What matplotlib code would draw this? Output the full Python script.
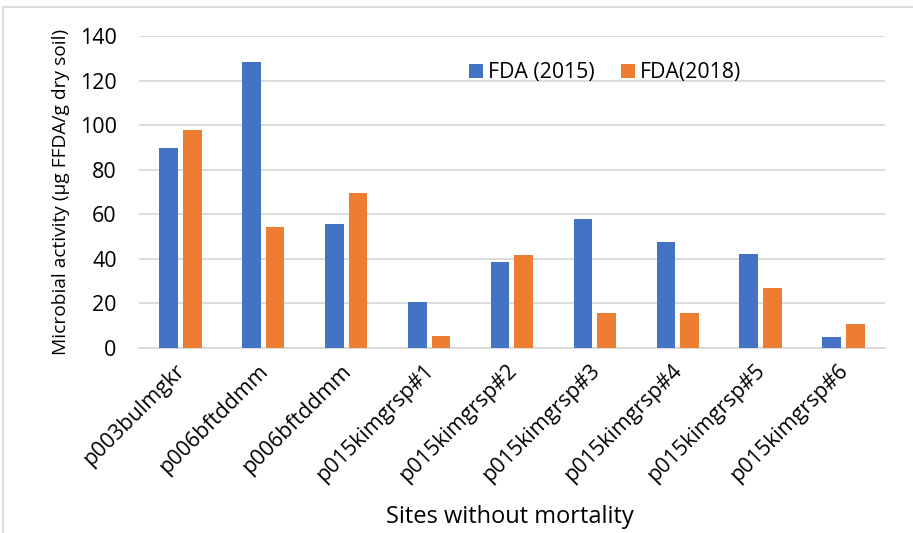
import matplotlib
matplotlib.use("Agg")
import matplotlib.pyplot as plt
import matplotlib.transforms as mtransforms
import numpy as np
from matplotlib.lines import Line2D

plt.rcParams['font.family'] = ['Open Sans', 'DejaVu Sans']

sites = ["p003bulmgkr", "p006bftddmm", "p006bftddmm", "p015kimgrsp#1",
         "p015kimgrsp#2", "p015kimgrsp#3", "p015kimgrsp#4", "p015kimgrsp#5",
         "p015kimgrsp#6"]
fda_2015 = [89.7, 128.5, 55.6, 20.6, 38.6, 57.7, 47.6, 42.2, 4.8]
fda_2018 = [97.8, 54.2, 69.7, 5.4, 41.6, 15.6, 15.6, 26.9, 10.8]
y_ticks = [0, 20, 40, 60, 80, 100, 120, 140]

blue = "#4472C4"
orange = "#ED7D31"
grid_col = "#D9D9D9"

fig = plt.figure(figsize=(9.13, 5.33), dpi=100)
ax = fig.add_axes([0.1522, 0.3471, 0.8171, 0.5854])

x = np.arange(len(sites))
w = 0.225
off = 0.1425
ax.bar(x - off, fda_2015, width=w, color=blue, label="FDA (2015)", zorder=3)
ax.bar(x + off, fda_2018, width=w, color=orange, label="FDA(2018)", zorder=3)

ax.set_xlim(-0.5, len(sites) - 0.5)
ax.set_ylim(0, 140)
ax.set_yticks(y_ticks)
ax.set_yticklabels([str(t) for t in y_ticks], fontsize=15.5)
ax.yaxis.grid(True, color=grid_col, linewidth=1.3, zorder=0)
ax.set_axisbelow(True)
ax.tick_params(axis='y', length=0, pad=16)
ax.tick_params(axis='x', length=0, pad=9)
for s in ["top", "right", "left"]:
    ax.spines[s].set_visible(False)
ax.spines["bottom"].set_color(grid_col)
ax.spines["bottom"].set_linewidth(1.3)

ax.set_xticks(x)
ax.set_xticklabels(sites, rotation=45, ha='right', rotation_mode='anchor',
                   fontsize=15.5)
shift = mtransforms.ScaledTranslation(-6 / 100, 0, fig.dpi_scale_trans)
for lbl in ax.get_xticklabels():
    lbl.set_transform(lbl.get_transform() + shift)

ax.set_ylabel("Microbial activity (µg FFDA/g dry soil)", fontsize=13.8, labelpad=7)
fig.text(510 / 913, 1 - 517 / 533, "Sites without mortality", fontsize=17,
         ha='center', va='center')

ax.legend(loc='center left', bbox_to_anchor=(0.442, 0.882), ncol=2, frameon=False,
          fontsize=15.3, handlelength=0.68, handleheight=0.68, handletextpad=0.25,
          columnspacing=1.2, borderaxespad=0, borderpad=0)

# outer frame of the chart area
fig.add_artist(Line2D([3 / 913, 1.0], [1 - 7 / 533, 1 - 7 / 533],
                      transform=fig.transFigure, color=grid_col, linewidth=1.3))
fig.add_artist(Line2D([3 / 913, 3 / 913], [0, 1 - 7 / 533],
                      transform=fig.transFigure, color=grid_col, linewidth=1.3))

fig.savefig("out.png", dpi=100)
